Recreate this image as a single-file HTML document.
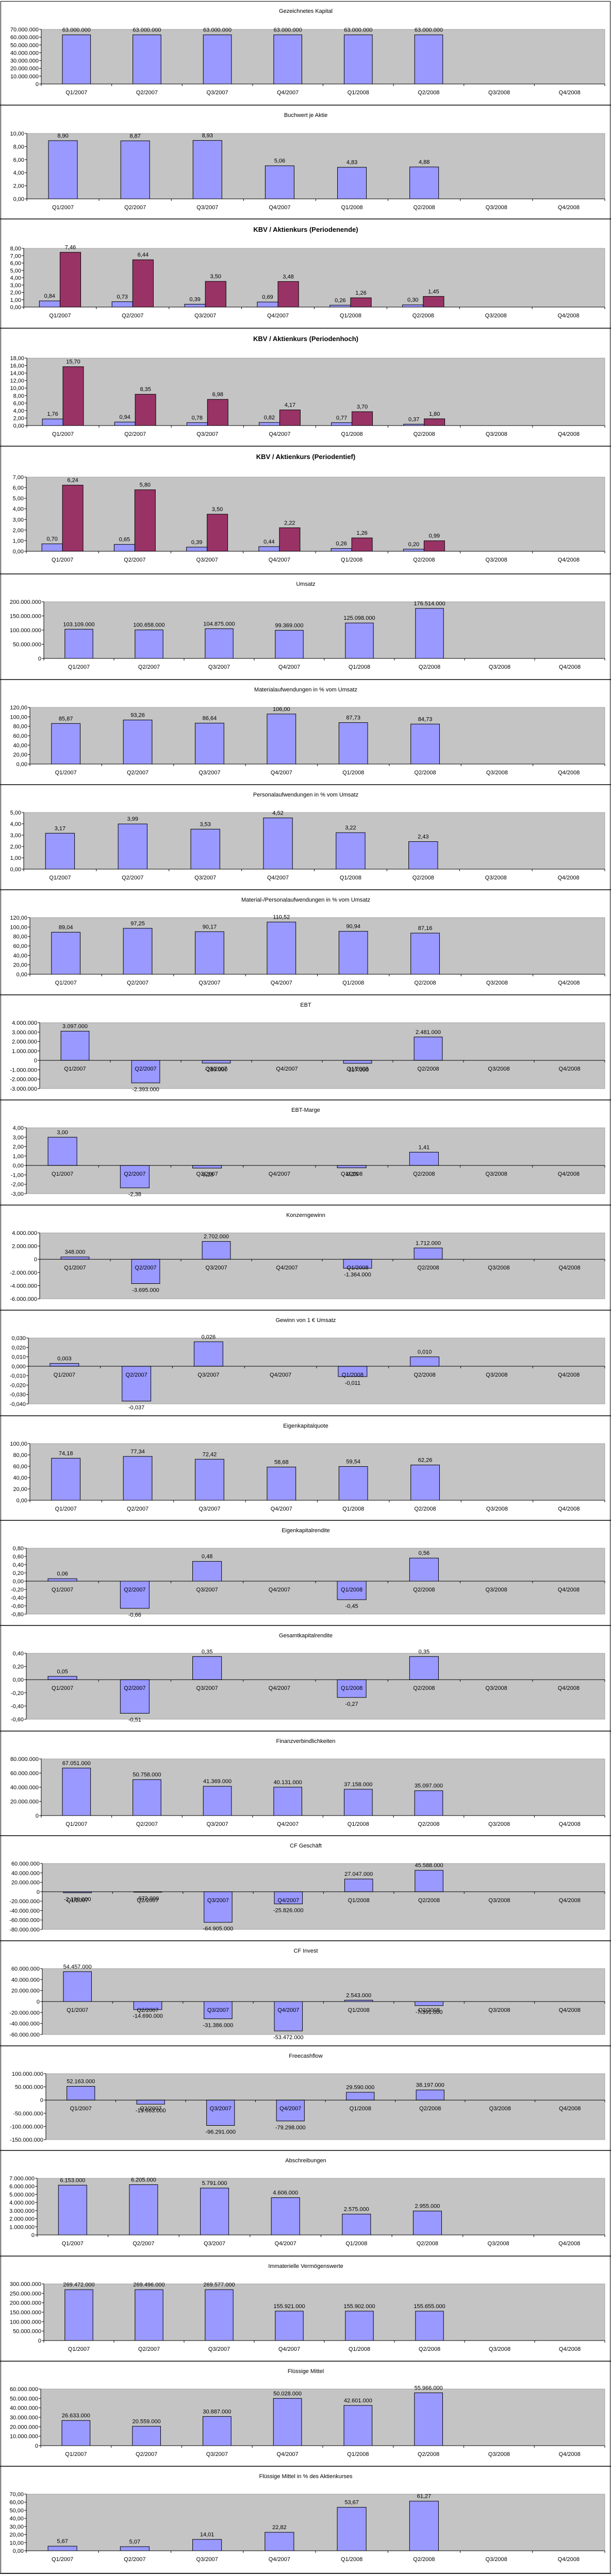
<!DOCTYPE html>
<html><head><meta charset="utf-8">
<style>
html,body{margin:0;padding:0;background:#fff;width:1185px;height:5009px;overflow:hidden;}
svg{display:block;font-family:"Liberation Sans",Arial,sans-serif;}
</style></head>
<body>
<svg id="root" width="1185" height="5009" viewBox="0 0 1185 5009" xmlns="http://www.w3.org/2000/svg"></svg>
<script>
const categories = ['Q1/2007','Q2/2007','Q3/2007','Q4/2007','Q1/2008','Q2/2008','Q3/2008','Q4/2008'];
const kapital = [63000000,63000000,63000000,63000000,63000000,63000000];
const buchwert = [8.90,8.87,8.93,5.06,4.83,4.88];
const kbvEndeKbv = [0.84,0.73,0.39,0.69,0.26,0.30];
const kbvEndeKurs = [7.46,6.44,3.50,3.48,1.26,1.45];
const kbvHochKbv = [1.76,0.94,0.78,0.82,0.77,0.37];
const kbvHochKurs = [15.70,8.35,6.98,4.17,3.70,1.80];
const kbvTiefKbv = [0.70,0.65,0.39,0.44,0.26,0.20];
const kbvTiefKurs = [6.24,5.80,3.50,2.22,1.26,0.99];
const umsatz = [103109000,100658000,104875000,99369000,125098000,176514000];
const materialQuote = [85.87,93.26,86.64,106.00,87.73,84.73];
const personalQuote = [3.17,3.99,3.53,4.52,3.22,2.43];
const matPersQuote = [89.04,97.25,90.17,110.52,90.94,87.16];
const ebt = [3097000,-2393000,-289000,null,-317000,2481000];
const ebtMarge = [3.00,-2.38,-0.28,null,-0.25,1.41];
const konzerngewinn = [348000,-3695000,2702000,null,-1364000,1712000];
const gewinnJeEuro = [0.003,-0.037,0.026,null,-0.011,0.010];
const ekQuote = [74.18,77.34,72.42,58.68,59.54,62.26];
const ekRendite = [0.06,-0.66,0.48,null,-0.45,0.56];
const gkRendite = [0.05,-0.51,0.35,null,-0.27,0.35];
const finanzverb = [67051000,50758000,41369000,40131000,37158000,35097000];
const cfGeschaeft = [-2190000,-972000,-64905000,-25826000,27047000,45588000];
const cfInvest = [54457000,-14690000,-31386000,-53472000,2543000,-7391000];
const freecashflow = [52163000,-15663000,-96291000,-79298000,29590000,38197000];
const abschreibungen = [6153000,6205000,5791000,4606000,2575000,2955000];
const immateriell = [269472000,269496000,269577000,155921000,155902000,155655000];
const fluessig = [26633000,20559000,30887000,50028000,42601000,55966000];
const fluessigQuote = [5.67,5.07,14.01,22.82,53.67,61.27];

const charts = [
 {name:'gezeichnetes-kapital',title:'Gezeichnetes Kapital',s:[kapital],min:0,max:70000000,step:10000000,yd:0,vd:0,top:2,bot:204,pt:57,pb:163,left:80},
 {name:'buchwert-je-aktie',title:'Buchwert je Aktie',s:[buchwert],min:0,max:10,step:2,yd:2,vd:2,top:204,bot:425,pt:259,pb:386,left:52},
 {name:'kbv-periodenende',title:'KBV / Aktienkurs (Periodenende)',bold:1,s:[kbvEndeKbv,kbvEndeKurs],min:0,max:8,step:1,yd:2,vd:2,top:425,bot:637,pt:482,pb:596,left:46},
 {name:'kbv-periodenhoch',title:'KBV / Aktienkurs (Periodenhoch)',bold:1,s:[kbvHochKbv,kbvHochKurs],min:0,max:18,step:2,yd:2,vd:2,top:637,bot:866,pt:695,pb:826,left:52},
 {name:'kbv-periodentief',title:'KBV / Aktienkurs (Periodentief)',bold:1,s:[kbvTiefKbv,kbvTiefKurs],min:0,max:7,step:1,yd:2,vd:2,top:866,bot:1114,pt:926,pb:1070,left:51},
 {name:'umsatz',title:'Umsatz',s:[umsatz],min:0,max:200000000,step:50000000,yd:0,vd:0,top:1114,left:85},
 {name:'materialaufwand-quote',title:'Materialaufwendungen in % vom Umsatz',s:[materialQuote],min:0,max:120,step:20,yd:2,vd:2,top:1319,left:58},
 {name:'personalaufwand-quote',title:'Personalaufwendungen in % vom Umsatz',s:[personalQuote],min:0,max:5,step:1,yd:2,vd:2,top:1523,left:46},
 {name:'material-personal-quote',title:'Material-/Personalaufwendungen in % vom Umsatz',s:[matPersQuote],min:0,max:120,step:20,yd:2,vd:2,top:1727,left:58},
 {name:'ebt',title:'EBT',s:[ebt],min:-3000000,max:4000000,step:1000000,yd:0,vd:0,top:1931,left:77},
 {name:'ebt-marge',title:'EBT-Marge',s:[ebtMarge],min:-3,max:4,step:1,yd:2,vd:2,top:2135,left:51},
 {name:'konzerngewinn',title:'Konzerngewinn',s:[konzerngewinn],min:-6000000,max:4000000,step:2000000,yd:0,vd:0,top:2339,left:77},
 {name:'gewinn-je-euro',title:'Gewinn von 1 € Umsatz',s:[gewinnJeEuro],min:-0.04,max:0.03,step:0.01,yd:3,vd:3,top:2543,left:55},
 {name:'eigenkapitalquote',title:'Eigenkapitalquote',s:[ekQuote],min:0,max:100,step:20,yd:2,vd:2,top:2748,left:58},
 {name:'eigenkapitalrendite',title:'Eigenkapitalrendite',s:[ekRendite],min:-0.8,max:0.8,step:0.2,yd:2,vd:2,top:2951,left:51},
 {name:'gesamtkapitalrendite',title:'Gesamtkapitalrendite',s:[gkRendite],min:-0.6,max:0.4,step:0.2,yd:2,vd:2,top:3155,left:51},
 {name:'finanzverbindlichkeiten',title:'Finanzverbindlichkeiten',s:[finanzverb],min:0,max:80000000,step:20000000,yd:0,vd:0,top:3360,left:80},
 {name:'cf-geschaeft',title:'CF Geschäft',s:[cfGeschaeft],min:-80000000,max:60000000,step:20000000,yd:0,vd:0,top:3563,left:82},
 {name:'cf-invest',title:'CF Invest',s:[cfInvest],min:-60000000,max:60000000,step:20000000,yd:0,vd:0,top:3767,left:82},
 {name:'freecashflow',title:'Freecashflow',s:[freecashflow],min:-150000000,max:100000000,step:50000000,yd:0,vd:0,top:3971,left:89},
 {name:'abschreibungen',title:'Abschreibungen',s:[abschreibungen],min:0,max:7000000,step:1000000,yd:0,vd:0,top:4174,left:72},
 {name:'immaterielle-vermoegenswerte',title:'Immaterielle Vermögenswerte',s:[immateriell],min:0,max:300000000,step:50000000,yd:0,vd:0,top:4379,left:85},
 {name:'fluessige-mittel',title:'Flüssige Mittel',s:[fluessig],min:0,max:60000000,step:10000000,yd:0,vd:0,top:4583,left:79},
 {name:'fluessige-mittel-quote',title:'Flüssige Mittel in % des Aktienkurses',s:[fluessigQuote],min:0,max:70,step:10,yd:2,vd:2,top:4787,left:51}
];
const separators = [204,425,637,866,1114,1319,1523,1727,1931,2135,2339,2543,2748,2951,3155,3360,3563,3767,3971,4174,4379,4583,4787,4995];

const NS='http://www.w3.org/2000/svg';
const root=document.getElementById('root');
function mk(tag,attrs,parent){const e=document.createElementNS(NS,tag);for(const k in attrs)e.setAttribute(k,attrs[k]);(parent||root).appendChild(e);return e;}
function fmt(v,d){
  const neg=v<0;let a=Math.abs(v);let s=a.toFixed(d);let [i,f]=s.split('.');
  i=i.replace(/\B(?=(\d{3})+(?!\d))/g,'.');
  let r=f?i+','+f:i; if(neg && parseFloat(s)!==0) r='-'+r; return r;
}
function txt(parent,x,y,str,opts){
  const t=mk('text',{x:x,y:y,'font-size':opts.size||10,'text-anchor':opts.anchor||'middle',fill:'#000'},parent);
  if(opts.bold)t.setAttribute('font-weight','bold');
  t.textContent=str;return t;
}

const frame=mk('rect',{x:1.5,y:2.5,width:1182,height:4992,fill:'none',stroke:'#000','stroke-width':1});


separators.forEach(function(y){
  const l=mk('line',{x1:0,x2:1185,y1:y,y2:y,stroke:'#000','stroke-width':1.5});
  
  
});

charts.forEach(function(c){
  const g=mk('g',{});
  
  
  const hasNeg=c.min<0;
  const pt=c.pt!==undefined?c.pt:c.top+54;
  const pb=c.pb!==undefined?c.pb:c.top+(hasNeg?182:164);
  const left=c.left,right=1173;
  const ys=function(v){return pt+(c.max-v)/(c.max-c.min)*(pb-pt);};
  const catW=(right-left)/categories.length;
  const xc=function(i){return left+catW*(i+0.5);};
  const tt=txt(g,593,c.top+(c.bold?25:23),c.title,{size:c.bold?13:11,bold:c.bold});
  
  
  const pa=mk('rect',{x:left,y:pt,width:right-left,height:pb-pt,fill:'#c4c4c4',stroke:'#808080','stroke-width':0.6},g);
  
  
  mk('line',{x1:left,x2:left,y1:pt,y2:pb,stroke:'#000','stroke-width':1},g);
  const nT=Math.round((c.max-c.min)/c.step);
  for(let k=0;k<=nT;k++){
    const v=c.min+k*c.step;const y=ys(v);
    mk('line',{x1:left-4,x2:left,y1:y,y2:y,stroke:'#000','stroke-width':1},g);
    const lab=txt(g,left-5,y+4,fmt(v,c.yd),{size:11,anchor:'end'});
    
    
  }
  const y0=ys(0);
  const ns=c.s.length;
  const bw=ns===1?catW*0.4:catW*0.285;
  const colors=['#9999ff','#993366'];
  c.s.forEach(function(series,si){
    series.forEach(function(v,i){
      if(v===null||v===undefined)return;
      const x=xc(i)-bw*ns/2+si*bw;
      const yv=ys(v);
      const r=mk('rect',{x:x,y:Math.min(yv,y0),width:bw,height:Math.max(Math.abs(yv-y0),0.5),fill:colors[si],stroke:'#000','stroke-width':1},g);
      
      
      const ly=v>=0?yv-6:yv+16;
      const vl=txt(g,x+bw/2,ly,fmt(v,c.vd),{size:11});
      
      
    });
  });
  mk('line',{x1:left,x2:right,y1:y0,y2:y0,stroke:'#000','stroke-width':1},g);
  for(let i=0;i<=categories.length;i++){
    const x=left+catW*i;
    mk('line',{x1:x,x2:x,y1:y0,y2:y0+4,stroke:'#000','stroke-width':1},g);
  }
  categories.forEach(function(cat,i){
    const cl=txt(g,xc(i),y0+20,cat,{size:11});
    
    
  });
});
</script>
</body></html>
